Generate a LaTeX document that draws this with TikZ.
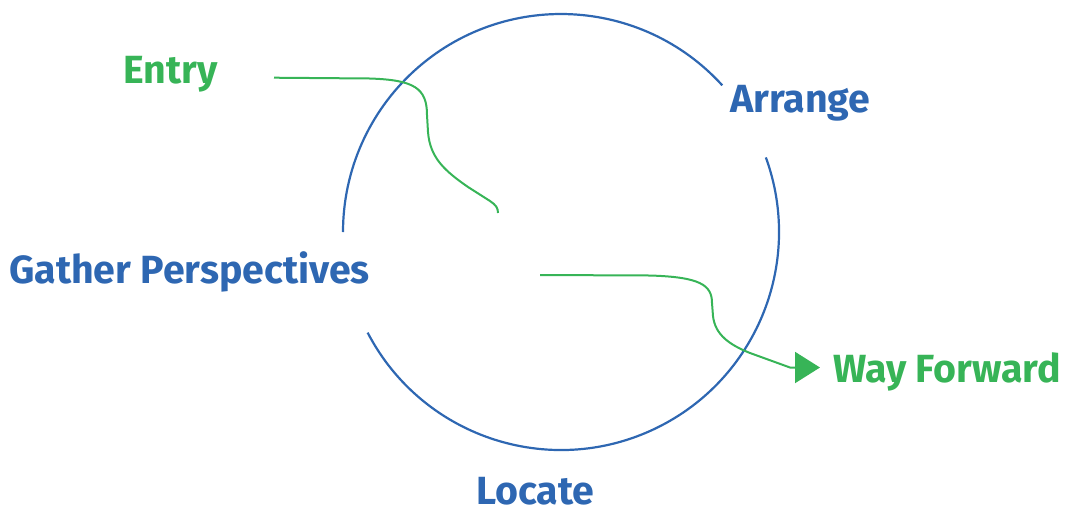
\documentclass[tikz,border=0pt]{standalone}
\usepackage{fontspec}
\setmainfont{Fira Sans}
\usetikzlibrary{arrows.meta}
\definecolor{cycleblue}{HTML}{2E67B2}
\definecolor{pathgreen}{HTML}{37B457}
\begin{document}
\begin{tikzpicture}[x=1pt,y=-1pt,
  stagelabel/.style={font=\fontsize{39.3}{45}\selectfont\bfseries, text=cycleblue, inner sep=0pt},
  flowlabel/.style={font=\fontsize{39.3}{45}\selectfont\bfseries, text=pathgreen, inner sep=0pt},
  cycle/.style={draw=cycleblue, line width=2.2pt},
  flow/.style={draw=pathgreen, line width=2pt}]
\useasboundingbox (0,0) rectangle (1067,512);
% centre of the cycle
\coordinate (hub) at (561,232);
% the cycle, broken at two places
\draw[cycle] (hub) ++(42.3:218 and -218) arc[start angle=42.3, end angle=180, x radius=218, y radius=-218];
\draw[cycle] (hub) ++(207.5:218 and -218) arc[start angle=207.5, end angle=380, x radius=218, y radius=-218];
% stage labels
\node[stagelabel, anchor=base west] (arrange) at (730,112.7) {Arrange};
\node[stagelabel, anchor=base west] (gather) at (9,283.3) {Gather Perspectives};
\node[stagelabel, anchor=base west] (locate) at (476,504.5) {Locate};
\node[flowlabel, anchor=base west] (entry) at (123,83.5) {Entry};
\node[flowlabel, anchor=base west] (forward) at (833,382.5) {Way Forward};
% ends of the flow lines
\coordinate (entrystart) at (274,77.7);
\coordinate (entryend) at (498,213);
\coordinate (forwardstart) at (540,275);
\coordinate (forwardtip) at (820,367.5);
% flow into the cycle
\draw[flow] (entrystart) -- (370,78.5)
  .. controls (414,80) and (427,88) .. (427,115) -- (428,132)
  .. controls (430,158) and (445,171) .. (468,187) -- (490,201)
  .. controls (496,205) and (498,208) .. (entryend);
% flow out of the cycle
\draw[flow, -{Triangle[length=25pt,width=31pt]}] (forwardstart) -- (650,275.5)
  .. controls (700,277) and (712,285) .. (712,303) -- (713,316)
  .. controls (715,335) and (730,345) .. (750,353) -- (790,367.5)
  -- (forwardtip);
\end{tikzpicture}
\end{document}
